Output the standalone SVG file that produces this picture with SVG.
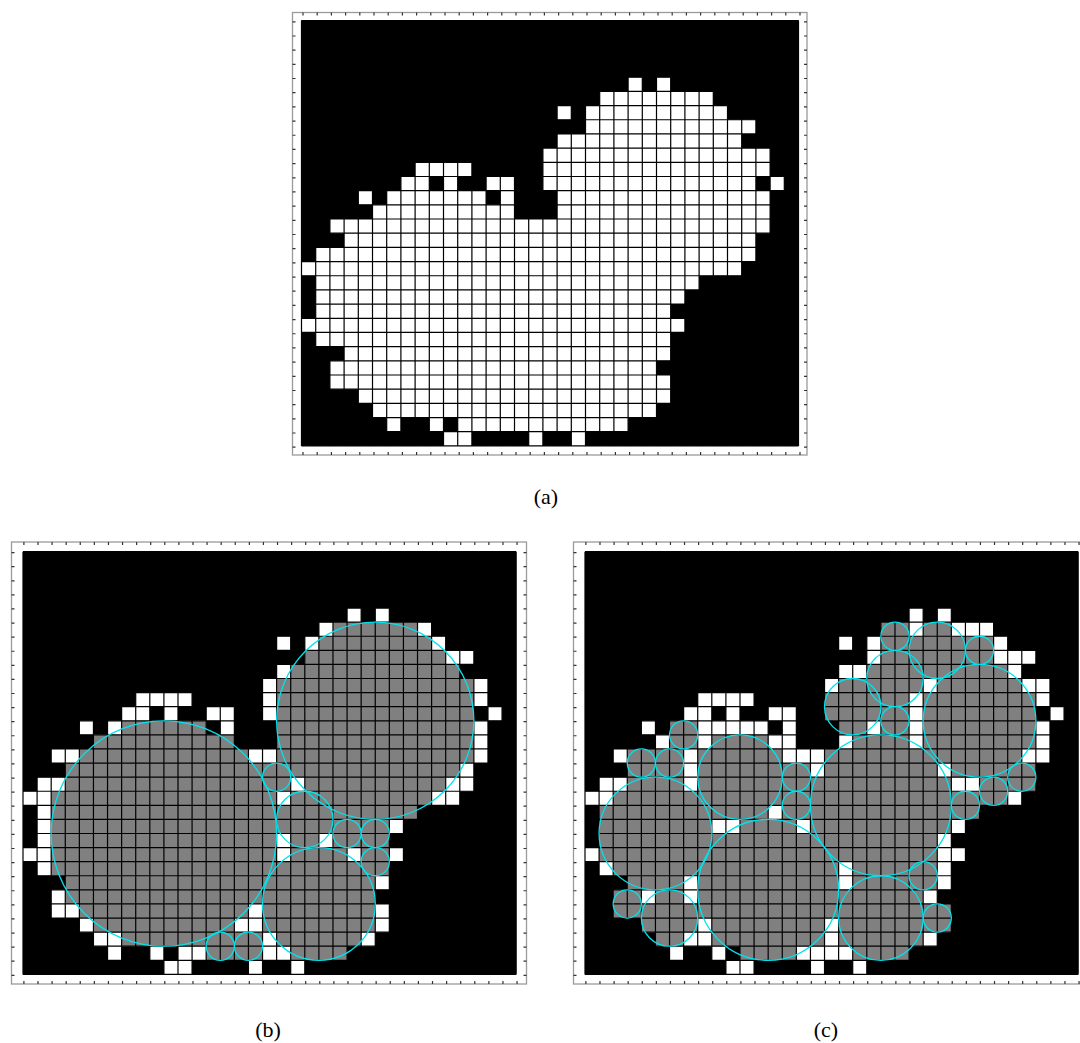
<svg xmlns="http://www.w3.org/2000/svg" width="1080" height="1043" viewBox="0 0 1080 1043">
<style>
.bg{fill:#000}
.cell{fill:#fff}
.gray{fill:#808080}
.grid{fill:none;stroke:#000;stroke-width:1.2}
.circ{fill:none;stroke:#00e3ec;stroke-width:1.3;vector-effect:non-scaling-stroke}
.frame{fill:none;stroke:#9a9a9a;stroke-width:1.3}
.tick{fill:none;stroke:#333;stroke-width:3}
.cap{font-family:'Liberation Serif','DejaVu Serif',serif;font-size:22px;fill:#000;text-anchor:middle}
</style>
<defs>
<path id="mask" d="M23 4h1v1h-1zM25 4h1v1h-1zM21 5h8v1h-8zM18 6h1v1h-1zM20 6h10v1h-10zM20 7h12v1h-12zM18 8h13v1h-13zM17 9h16v1h-16zM8 10h4v1h-4zM17 10h16v1h-16zM7 11h2v1h-2zM10 11h1v1h-1zM13 11h2v1h-2zM17 11h15v1h-15zM33 11h1v1h-1zM4 12h1v1h-1zM6 12h7v1h-7zM14 12h1v1h-1zM18 12h15v1h-15zM5 13h10v1h-10zM18 13h15v1h-15zM2 14h31v1h-31zM3 15h29v1h-29zM1 16h31v1h-31zM0 17h31v1h-31zM1 18h27v1h-27zM1 19h26v1h-26zM1 20h25v1h-25zM0 21h27v1h-27zM1 22h25v1h-25zM3 23h23v1h-23zM2 24h23v1h-23zM2 25h24v1h-24zM4 26h22v1h-22zM5 27h20v1h-20zM6 28h1v1h-1zM9 28h1v1h-1zM11 28h12v1h-12zM10 29h2v1h-2zM16 29h1v1h-1zM19 29h1v1h-1z"/>
<path id="gridp" vector-effect="non-scaling-stroke" d="M0 0V30M1 0V30M2 0V30M3 0V30M4 0V30M5 0V30M6 0V30M7 0V30M8 0V30M9 0V30M10 0V30M11 0V30M12 0V30M13 0V30M14 0V30M15 0V30M16 0V30M17 0V30M18 0V30M19 0V30M20 0V30M21 0V30M22 0V30M23 0V30M24 0V30M25 0V30M26 0V30M27 0V30M28 0V30M29 0V30M30 0V30M31 0V30M32 0V30M33 0V30M34 0V30M35 0V30M0 0H35M0 1H35M0 2H35M0 3H35M0 4H35M0 5H35M0 6H35M0 7H35M0 8H35M0 9H35M0 10H35M0 11H35M0 12H35M0 13H35M0 14H35M0 15H35M0 16H35M0 17H35M0 18H35M0 19H35M0 20H35M0 21H35M0 22H35M0 23H35M0 24H35M0 25H35M0 26H35M0 27H35M0 28H35M0 29H35M0 30H35"/>
</defs>

<g id="panel-a">
<rect class="frame" x="292.5" y="12.5" width="514.5" height="442.5"/>
<g class="tick">
<line x1="302.4" y1="14" x2="801" y2="14" stroke-dasharray="1.2 13"/>
<line x1="302.4" y1="453.5" x2="801" y2="453.5" stroke-dasharray="1.2 13"/>
<line x1="294" y1="21.2" x2="294" y2="448" stroke-dasharray="1.2 12.98"/>
<line x1="805.5" y1="21.2" x2="805.5" y2="448" stroke-dasharray="1.2 12.98"/>
</g>
<g transform="translate(301.5 20.5) scale(14.2 14.18)">
<rect class="bg" width="35" height="30"/>
<use href="#mask" class="cell"/>
<use href="#gridp" class="grid"/>
</g>
<text class="cap" x="546" y="504">(a)</text>
</g>

<g id="panel-b">
<rect class="frame" x="11.5" y="542" width="515" height="442"/>
<g class="tick">
<line x1="23.3" y1="543.5" x2="519" y2="543.5" stroke-dasharray="1.2 12.89"/>
<line x1="23.3" y1="982.5" x2="519" y2="982.5" stroke-dasharray="1.2 12.89"/>
<line x1="13" y1="552" x2="13" y2="976" stroke-dasharray="1.2 12.89"/>
<line x1="525" y1="552" x2="525" y2="976" stroke-dasharray="1.2 12.89"/>
</g>
<g transform="translate(23 551.7) scale(14.09)">
<rect class="bg" width="35" height="30"/>
<use href="#mask" class="cell"/>
<path class="gray" d="M22 5h6v1h-6zM21 6h8v1h-8zM20 7h10v1h-10zM19 8h12v1h-12zM18 9h14v6h-14zM7 12h6v1h-6zM5 13h10v1h-10zM4 14h12v1h-12zM3 15h28v1h-28zM3 16h16v1h-16zM20 16h10v1h-10zM2 17h16v1h-16zM19 17h10v1h-10zM2 18h26v1h-26zM2 19h24v1h-24zM2 20h16v1h-16zM19 20h2v1h-2zM22 20h4v1h-4zM2 21h16v1h-16zM19 21h4v1h-4zM24 21h2v1h-2zM2 22h24v1h-24zM3 23h22v2h-22zM4 25h12v1h-12zM17 25h8v1h-8zM5 26h10v1h-10zM17 26h8v1h-8zM7 27h10v1h-10zM18 27h6v1h-6zM13 28h4v1h-4zM19 28h4v1h-4z"/>
<use href="#gridp" class="grid"/>
<g id="circles-b">
<circle class="circ" cx="10" cy="20" r="8"/>
<circle class="circ" cx="25" cy="12" r="7"/>
<circle class="circ" cx="21" cy="25" r="4"/>
<circle class="circ" cx="20" cy="19" r="2"/>
<circle class="circ" cx="18" cy="16" r="1"/>
<circle class="circ" cx="23" cy="20" r="1"/>
<circle class="circ" cx="25" cy="20" r="1"/>
<circle class="circ" cx="25" cy="22" r="1"/>
<circle class="circ" cx="14" cy="28" r="1"/>
<circle class="circ" cx="16" cy="28" r="1"/>
</g>
</g>
<text class="cap" x="268" y="1037">(b)</text>
</g>

<g id="panel-c">
<rect class="frame" x="573.5" y="542" width="515" height="442"/>
<g class="tick">
<line x1="585.3" y1="543.5" x2="1080" y2="543.5" stroke-dasharray="1.2 12.89"/>
<line x1="585.3" y1="982.5" x2="1080" y2="982.5" stroke-dasharray="1.2 12.89"/>
<line x1="575" y1="552" x2="575" y2="976" stroke-dasharray="1.2 12.89"/>
</g>
<g transform="translate(585 551.7) scale(14.09)">
<rect class="bg" width="35" height="30"/>
<use href="#mask" class="cell"/>
<path class="gray" d="M21 5h2v1h-2zM24 5h2v1h-2zM21 6h8v2h-8zM20 8h10v1h-10zM18 9h6v1h-6zM25 9h6v1h-6zM17 10h6v2h-6zM24 10h8v2h-8zM6 12h2v1h-2zM18 12h2v1h-2zM21 12h2v1h-2zM24 12h8v1h-8zM6 13h2v1h-2zM9 13h4v1h-4zM19 13h4v1h-4zM24 13h8v1h-8zM3 14h4v1h-4zM8 14h6v1h-6zM17 14h14v1h-14zM3 15h4v1h-4zM8 15h8v1h-8zM17 15h8v1h-8zM26 15h6v1h-6zM3 16h4v1h-4zM8 16h18v1h-18zM28 16h4v1h-4zM2 17h28v1h-28zM1 18h12v1h-12zM14 18h14v1h-14zM1 19h8v1h-8zM11 19h4v1h-4zM16 19h10v1h-10zM1 20h24v2h-24zM2 22h16v1h-16zM19 22h6v1h-6zM3 23h4v1h-4zM8 23h10v1h-10zM19 23h6v1h-6zM2 24h2v1h-2zM5 24h2v1h-2zM8 24h16v1h-16zM2 25h24v1h-24zM4 26h4v1h-4zM9 26h8v1h-8zM18 26h8v1h-8zM5 27h2v1h-2zM9 27h8v1h-8zM18 27h6v1h-6zM11 28h4v1h-4zM19 28h4v1h-4z"/>
<use href="#gridp" class="grid"/>
<g id="circles-c">
<circle class="circ" cx="7" cy="13" r="1"/>
<circle class="circ" cx="4" cy="15" r="1"/>
<circle class="circ" cx="6" cy="15" r="1"/>
<circle class="circ" cx="11" cy="16" r="3"/>
<circle class="circ" cx="5" cy="20" r="4"/>
<circle class="circ" cx="3" cy="25" r="1"/>
<circle class="circ" cx="6" cy="26" r="2"/>
<circle class="circ" cx="13" cy="24" r="5"/>
<circle class="circ" cx="15" cy="16" r="1"/>
<circle class="circ" cx="15" cy="18" r="1"/>
<circle class="circ" cx="19" cy="11" r="2"/>
<circle class="circ" cx="22" cy="6" r="1"/>
<circle class="circ" cx="22" cy="9" r="2"/>
<circle class="circ" cx="22" cy="12" r="1"/>
<circle class="circ" cx="25" cy="7" r="2"/>
<circle class="circ" cx="28" cy="7" r="1"/>
<circle class="circ" cx="28" cy="12" r="4"/>
<circle class="circ" cx="21" cy="18" r="5"/>
<circle class="circ" cx="27" cy="18" r="1"/>
<circle class="circ" cx="29" cy="17" r="1"/>
<circle class="circ" cx="31" cy="16" r="1"/>
<circle class="circ" cx="24" cy="23" r="1"/>
<circle class="circ" cx="21" cy="26" r="3"/>
<circle class="circ" cx="25" cy="26" r="1"/>
</g>
</g>
<text class="cap" x="826" y="1037">(c)</text>
</g>
</svg>
